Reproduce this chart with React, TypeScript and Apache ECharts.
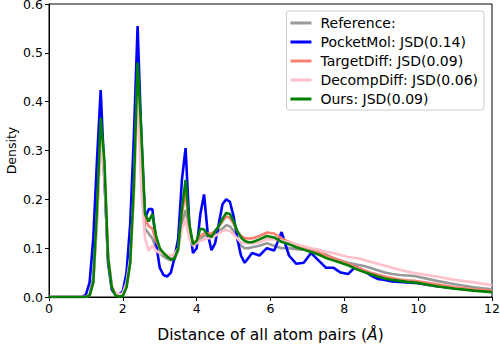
import React, { useEffect, useRef } from "react";
import * as echarts from "echarts";

const xs = [0, 0.9, 1.0, 1.1, 1.2, 1.3, 1.4, 1.5, 1.6, 1.7, 1.8, 1.9, 2.0, 2.1, 2.2, 2.3, 2.4, 2.5, 2.6, 2.7, 2.8, 2.9, 3.0, 3.1, 3.2, 3.3, 3.4, 3.5, 3.6, 3.7, 3.8, 3.9, 4.0, 4.1, 4.2, 4.3, 4.4, 4.5, 4.6, 4.7, 4.8, 4.9, 5.0, 5.1, 5.2, 5.3, 5.4, 5.5, 5.7, 5.9, 6.1, 6.3, 6.5, 6.7, 6.9, 7.1, 7.3, 7.5, 7.7, 7.9, 8.1, 8.3, 8.5, 8.7, 8.9, 9.1, 9.3, 9.5, 9.7, 9.9, 10.5, 11, 11.5, 12];

const reference = [0, 0, 0, 0.005, 0.04, 0.17, 0.33, 0.24, 0.08, 0.02, 0.005, 0.003, 0.005, 0.03, 0.09, 0.25, 0.44, 0.27, 0.14, 0.13, 0.12, 0.1, 0.09, 0.083, 0.078, 0.075, 0.078, 0.095, 0.15, 0.178, 0.14, 0.11, 0.115, 0.12, 0.125, 0.125, 0.128, 0.13, 0.135, 0.14, 0.147, 0.145, 0.135, 0.12, 0.105, 0.1, 0.1, 0.102, 0.105, 0.11, 0.105, 0.1, 0.1, 0.098, 0.097, 0.092, 0.09, 0.087, 0.08, 0.075, 0.07, 0.067, 0.064, 0.06, 0.055, 0.05, 0.047, 0.045, 0.044, 0.043, 0.033, 0.026, 0.02, 0.016];

const pocketMol = [0, 0, 0.005, 0.03, 0.12, 0.28, 0.424, 0.25, 0.07, 0.015, 0.005, 0.005, 0.012, 0.05, 0.15, 0.33, 0.555, 0.33, 0.16, 0.18, 0.18, 0.11, 0.06, 0.045, 0.042, 0.05, 0.08, 0.12, 0.24, 0.305, 0.15, 0.09, 0.1, 0.17, 0.21, 0.13, 0.096, 0.11, 0.15, 0.19, 0.2, 0.195, 0.165, 0.12, 0.085, 0.07, 0.08, 0.09, 0.085, 0.1, 0.095, 0.133, 0.085, 0.068, 0.07, 0.09, 0.075, 0.06, 0.06, 0.05, 0.047, 0.062, 0.055, 0.045, 0.037, 0.035, 0.032, 0.031, 0.03, 0.029, 0.022, 0.018, 0.014, 0.012];

const targetDiff = [0, 0, 0, 0.003, 0.03, 0.16, 0.34, 0.26, 0.08, 0.02, 0.005, 0.002, 0.003, 0.02, 0.07, 0.22, 0.46, 0.3, 0.16, 0.145, 0.14, 0.115, 0.1, 0.09, 0.083, 0.078, 0.08, 0.1, 0.17, 0.215, 0.14, 0.11, 0.115, 0.125, 0.13, 0.13, 0.13, 0.135, 0.145, 0.155, 0.165, 0.162, 0.15, 0.135, 0.125, 0.12, 0.12, 0.12, 0.125, 0.132, 0.13, 0.12, 0.113, 0.107, 0.102, 0.097, 0.092, 0.085, 0.08, 0.074, 0.068, 0.062, 0.056, 0.05, 0.046, 0.042, 0.039, 0.036, 0.034, 0.033, 0.026, 0.02, 0.016, 0.013];

const decompDiff = [0, 0, 0, 0.005, 0.03, 0.15, 0.33, 0.25, 0.09, 0.025, 0.008, 0.005, 0.008, 0.03, 0.08, 0.2, 0.42, 0.22, 0.12, 0.095, 0.105, 0.095, 0.09, 0.088, 0.085, 0.085, 0.088, 0.1, 0.14, 0.158, 0.12, 0.105, 0.11, 0.115, 0.118, 0.12, 0.122, 0.125, 0.13, 0.135, 0.137, 0.135, 0.128, 0.12, 0.112, 0.11, 0.11, 0.11, 0.112, 0.118, 0.118, 0.115, 0.112, 0.108, 0.104, 0.1, 0.097, 0.093, 0.09, 0.086, 0.082, 0.08, 0.077, 0.072, 0.068, 0.064, 0.06, 0.056, 0.052, 0.049, 0.042, 0.035, 0.03, 0.024];

const ours = [0, 0, 0, 0.003, 0.03, 0.18, 0.367, 0.28, 0.08, 0.02, 0.003, 0.001, 0.002, 0.02, 0.07, 0.23, 0.48, 0.34, 0.17, 0.155, 0.17, 0.125, 0.1, 0.09, 0.083, 0.077, 0.078, 0.1, 0.18, 0.24, 0.15, 0.108, 0.115, 0.14, 0.138, 0.127, 0.123, 0.135, 0.145, 0.16, 0.172, 0.17, 0.155, 0.135, 0.122, 0.115, 0.112, 0.112, 0.118, 0.125, 0.122, 0.113, 0.108, 0.102, 0.097, 0.092, 0.087, 0.08, 0.075, 0.07, 0.065, 0.058, 0.052, 0.047, 0.042, 0.038, 0.035, 0.033, 0.031, 0.03, 0.022, 0.017, 0.013, 0.01];

const seriesNames = ["Reference:", "PocketMol: JSD(0.14)", "TargetDiff: JSD(0.09)", "DecompDiff: JSD(0.06)", "Ours: JSD(0.09)"];
const seriesValues = [reference, pocketMol, targetDiff, decompDiff, ours];
const seriesColors = ["#999999", "#0000ff", "#fa8072", "#ffc0cb", "#008000"];

const yTicks = [0, 0.1, 0.2, 0.3, 0.4, 0.5, 0.6];
const xTicks = [0, 2, 4, 6, 8, 10, 12];

const FONT = "DejaVu Sans";

export default function App() {
  const ref = useRef<HTMLDivElement>(null);
  useEffect(() => {
    document.body.style.margin = "0";
    if (!ref.current) return;
    const chart = echarts.init(ref.current, null, { renderer: "svg" });
    chart.setOption({
      animation: false,
      textStyle: { fontFamily: FONT },
      grid: { left: 49, right: 8, top: 4, bottom: 47, containLabel: false, outerBoundsMode: "none", show: true, borderColor: "#000", borderWidth: 1, backgroundColor: "transparent" },
      legend: {
        data: seriesNames.map((n) => ({ name: n })),
        orient: "vertical",
        right: 16,
        top: 11,
        icon: "rect",
        itemWidth: 21,
        itemHeight: 3,
        itemGap: 5,
        padding: [5, 6, 4, 4],
        backgroundColor: "rgba(255,255,255,0.8)",
        borderColor: "#cccccc",
        borderWidth: 1,
        borderRadius: 3,
        textStyle: { fontFamily: FONT, fontSize: 14, color: "#000", padding: [0, 0, 0, 4] },
      },
      xAxis: {
        type: "value",
        min: xTicks[0],
        max: xTicks[xTicks.length - 1],
        interval: 2,
        name: "Distance of all atom pairs ({i|Å})",
        nameLocation: "middle",
        nameGap: 30,
        nameTextStyle: { fontFamily: FONT, fontSize: 15.5, color: "#000", rich: { i: { fontFamily: FONT, fontSize: 15.5, fontStyle: "italic", color: "#000" } } },
        axisLine: { show: true, lineStyle: { color: "#000", width: 1 } },
        axisTick: { show: true, length: 4, lineStyle: { color: "#000" } },
        axisLabel: { fontFamily: FONT, fontSize: 12.5, color: "#000", margin: 5 },
        splitLine: { show: false },
      },
      yAxis: {
        type: "value",
        min: yTicks[0],
        max: yTicks[yTicks.length - 1],
        interval: 0.1,
        name: "Density",
        nameLocation: "middle",
        nameGap: 31,
        nameMoveOverlap: false,
        nameTextStyle: { fontFamily: FONT, fontSize: 12.5, color: "#000" },
        axisLine: { show: true, lineStyle: { color: "#000", width: 1 } },
        axisTick: { show: true, length: 4, lineStyle: { color: "#000" } },
        axisLabel: { fontFamily: FONT, fontSize: 12.5, color: "#000", margin: 6, formatter: (v: number) => v.toFixed(1) },
        splitLine: { show: false },
      },
      series: seriesNames.map((name, i) => ({
        name,
        type: "line",
        showSymbol: false,
        symbol: "none",
        color: seriesColors[i],
        lineStyle: { color: seriesColors[i], width: 2.6 },
        data: xs.map((x, j) => [x, seriesValues[i][j]]),
        z: 2 + i,
      })),
    });
    return () => chart.dispose();
  }, []);
  return <div ref={ref} style={{ width: 500, height: 344 }} />;
}
